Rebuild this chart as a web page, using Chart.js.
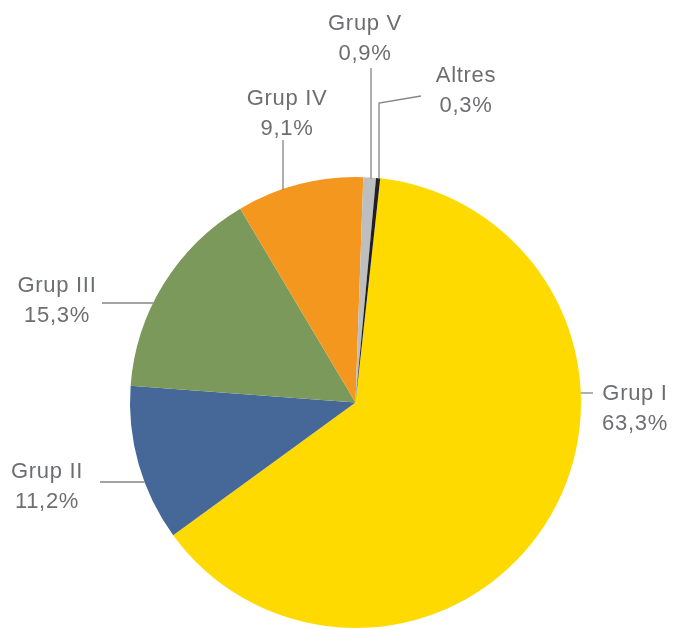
<!DOCTYPE html>
<html>
<head>
<meta charset="utf-8">
<script src="https://cdn.jsdelivr.net/npm/chart.js@4/dist/chart.umd.min.js"></script>
<style>
html,body{margin:0;padding:0;background:#fff;}
#wrap{width:673px;height:629px;}
</style>
</head>
<body>
<div id="wrap"><canvas id="c" width="673" height="629"></canvas></div>
<script>
const categories = ['Grup I', 'Grup II', 'Grup III', 'Grup IV', 'Grup V', 'Altres'];
const shares = [63.3, 11.2, 15.3, 9.1, 0.9, 0.3];
const sliceColors = ['#FFDA00', '#466899', '#7A995B', '#F4971F', '#BDBEC0', '#231F20'];

// label layout (text centre x, baseline of first line) and leader line style
const labelLayout = [
  {x: 635, y: 400, line: {type: 'h', y: 393, to: 593, side: 'right'}},
  {x: 47,  y: 478, line: {type: 'h', y: 482, to: 100, side: 'left'}},
  {x: 57,  y: 292, line: {type: 'h', y: 303, to: 102, side: 'left'}},
  {x: 287, y: 105, line: {type: 'v', x: 283, to: 140}},
  {x: 365, y: 30,  line: {type: 'v', x: 371, to: 68}},
  {x: 466, y: 82,  line: {type: 'v', x: 379, to: 103, extra: {x: 421, y: 96}}}
];

const fmt = v => v.toFixed(1).replace('.', ',') + '%';

const labelPlugin = {
  id: 'pieLabels',
  afterDatasetsDraw(chart) {
    const ctx = chart.ctx;
    const arc = chart.getDatasetMeta(0).data[0];
    const cx = arc.x, cy = arc.y, r = arc.outerRadius;
    ctx.save();
    ctx.strokeStyle = '#858585';
    ctx.lineWidth = 1.3;
    labelLayout.forEach((L, i) => {
      const ln = L.line;
      ctx.beginPath();
      if (ln.type === 'h') {
        const dx = Math.sqrt(Math.max(0, r * r - (ln.y - cy) * (ln.y - cy)));
        const ex = ln.side === 'right' ? cx + dx : cx - dx;
        ctx.moveTo(ex, ln.y);
        ctx.lineTo(ln.to, ln.y);
      } else {
        const dy = Math.sqrt(Math.max(0, r * r - (ln.x - cx) * (ln.x - cx)));
        const ey = cy - dy;
        ctx.moveTo(ln.x, ey + 1);
        ctx.lineTo(ln.x, ln.to);
        if (ln.extra) ctx.lineTo(ln.extra.x, ln.extra.y);
      }
      ctx.stroke();
    });
    ctx.fillStyle = '#6D6E71';
    ctx.font = '22px "Liberation Sans", Arial, sans-serif';
    try { ctx.letterSpacing = '0.7px'; } catch (e) {}
    ctx.textAlign = 'center';
    ctx.textBaseline = 'alphabetic';
    labelLayout.forEach((L, i) => {
      ctx.fillText(categories[i], L.x, L.y);
      ctx.fillText(fmt(shares[i]), L.x, L.y + 30);
    });
    ctx.restore();
  }
};

new Chart(document.getElementById('c'), {
  type: 'pie',
  data: {
    labels: categories,
    datasets: [{
      data: shares,
      backgroundColor: sliceColors,
      borderWidth: 0
    }]
  },
  options: {
    responsive: false,
    animation: false,
    rotation: 6.3,
    layout: {padding: {left: 129, right: 91, top: 177, bottom: 1}},
    plugins: {legend: {display: false}, tooltip: {enabled: false}}
  },
  plugins: [labelPlugin]
});
</script>
</body>
</html>
